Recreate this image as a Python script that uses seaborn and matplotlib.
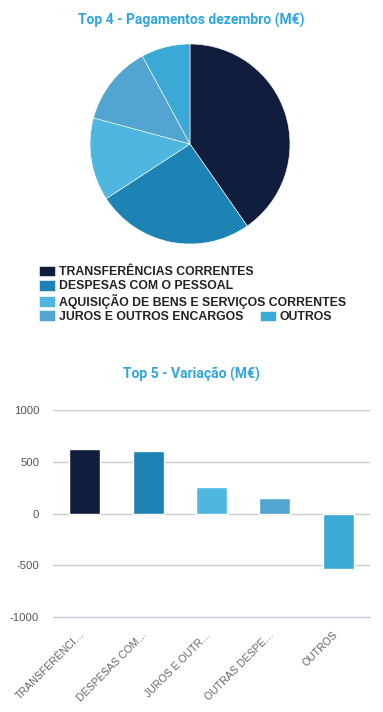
import matplotlib
matplotlib.use("Agg")
from matplotlib import pyplot as plt
import seaborn as sns
import pandas as pd

# dados
pie_labels = ["TRANSFERÊNCIAS CORRENTES", "DESPESAS COM O PESSOAL",
              "AQUISIÇÃO DE BENS E SERVIÇOS CORRENTES", "JUROS E OUTROS ENCARGOS", "OUTROS"]
pie_values = [40.3, 25.5, 13.4, 12.9, 7.9]
pie_colors = ["#111d3c", "#1d82b4", "#4fb7df", "#52a5d1", "#3aa9d6"]

bar_labels = ["TRANSFERÊNCI…", "DESPESAS COM…", "JUROS E OUTR…", "OUTRAS DESPE…", "OUTROS"]
bar_values = [620, 600, 256, 150, -536]
bar_colors = ["#111d3c", "#1d82b4", "#4fb7df", "#52a5d1", "#3aa9d6"]

title_color = "#2fa6da"
grid_color = "#cccccc"
axis_color = "#c3cfdd"

sns.set_style("white")
plt.rcParams["font.family"] = ["Liberation Sans", "DejaVu Sans"]

W, H = 383, 712
fig = plt.figure(figsize=(W / 100, H / 100), dpi=100)

def px_axes(left, top, right, bottom):
    return fig.add_axes([left / W, 1 - bottom / H, (right - left) / W, (bottom - top) / H])

# títulos
fig.text(191 / W, 1 - 20 / H, "Top 4 - Pagamentos dezembro (M€)", ha="center", va="center",
         color=title_color, fontsize=10, fontweight="bold", family=["Roboto", "DejaVu Sans"])
fig.text(191 / W, 1 - 374 / H, "Top 5 - Variação (M€)", ha="center", va="center",
         color=title_color, fontsize=10, fontweight="bold", family=["Roboto", "DejaVu Sans"])

# pie
ax1 = px_axes(90, 44, 290, 244)
wedges, _ = ax1.pie(pie_values, colors=pie_colors, startangle=90, counterclock=False,
                    wedgeprops=dict(edgecolor="white", linewidth=0.4))
ax1.set_xlim(-1, 1)
ax1.set_ylim(-1, 1)
ax1.set_aspect("equal")

leg_kw = dict(frameon=False, handlelength=1.3, handleheight=1.0,
              handletextpad=0.3, borderpad=0, borderaxespad=0, labelspacing=0.12,
              prop={"weight": "bold", "size": 8.8})
leg1 = fig.legend(wedges[:4], pie_labels[:4], loc="upper left",
                  bbox_to_anchor=(39 / W, 1 - 265.5 / H), **leg_kw)
for t in leg1.get_texts():
    t.set_color("#222222")
leg2 = fig.legend(wedges[4:], pie_labels[4:], loc="upper left",
                  bbox_to_anchor=(260 / W, 1 - 310.5 / H), **leg_kw)
for t in leg2.get_texts():
    t.set_color("#222222")

# barras
df = pd.DataFrame({"cat": bar_labels, "val": bar_values})
ax2 = px_axes(53, 410, 370, 617)
sns.barplot(data=df, x="cat", y="val", hue="cat", palette=bar_colors, legend=False,
            width=0.49, saturation=1, ax=ax2, zorder=3)
ax2.set_ylim(-1000, 1000)
ax2.set_xlim(-0.5, len(bar_labels) - 0.5)
ax2.set_yticks([-1000, -500, 0, 500, 1000])
ax2.set_yticklabels(["-1000", "-500", "0", "500", "1000"])
ax2.set_xlabel("")
ax2.set_ylabel("")
for y in [-500, 0, 500, 1000]:
    ax2.axhline(y, color=grid_color, linewidth=1, zorder=1)
for s in ["top", "right", "left"]:
    ax2.spines[s].set_visible(False)
ax2.spines["bottom"].set_color(axis_color)
ax2.spines["bottom"].set_linewidth(1)
ax2.tick_params(axis="y", length=0, pad=10, labelsize=8.2, labelcolor="#555555")
ax2.set_xticks([i - 0.5 for i in range(len(bar_labels) + 1)], minor=True)
ax2.tick_params(axis="x", which="minor", length=6.5, width=1, color=axis_color, direction="out")
ax2.tick_params(axis="x", which="major", length=0, pad=13, labelsize=7.6, labelcolor="#666666")
for lbl in ax2.get_xticklabels():
    lbl.set_rotation(45)
    lbl.set_ha("right")
    lbl.set_va("baseline")
    lbl.set_rotation_mode("anchor")

fig.savefig("out.png", dpi=100)
